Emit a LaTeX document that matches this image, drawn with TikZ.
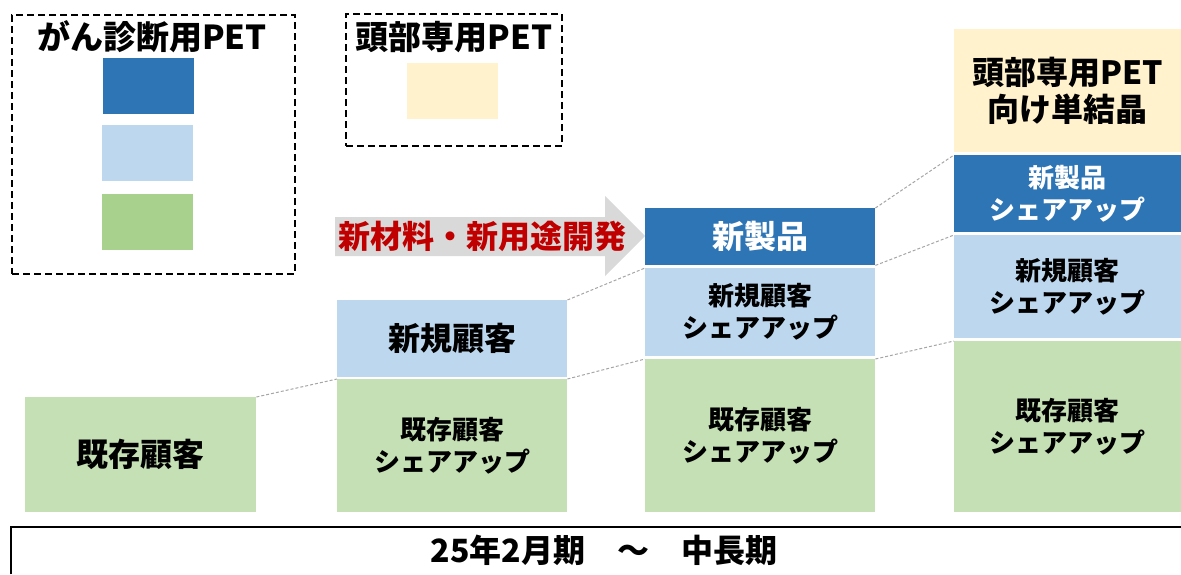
\documentclass[tikz,border=0pt]{standalone}
\usepackage{fontspec}
\setmainfont{Noto Sans CJK JP}
\definecolor{dblue}{HTML}{2E75B6}
\definecolor{lblue}{HTML}{BDD7EE}
\definecolor{lgreen}{HTML}{C5E0B4}
\definecolor{mgreen}{HTML}{A9D18E}
\definecolor{cream}{HTML}{FFF2CC}
\definecolor{agray}{HTML}{D9D9D9}
\definecolor{dred}{HTML}{C00000}
\definecolor{cgray}{HTML}{A6A6A6}
\begin{document}
\begin{tikzpicture}[x=1pt,y=-1pt,
  seg/.style={anchor=north west, inner sep=0pt, align=center, text=black},
  big/.style={font=\bfseries\fontsize{32}{37}\selectfont},
  small/.style={font=\bfseries\fontsize{26}{32}\selectfont},
  conn/.style={draw=cgray, line width=1pt, dash pattern=on 3pt off 2pt},
  legbox/.style={draw=black, line width=2pt, dash pattern=on 7pt off 4pt, anchor=north west, inner sep=0pt},
  swatch/.style={anchor=north west, inner sep=0pt, minimum width=91pt, minimum height=56pt},
  legtitle/.style={inner sep=0pt, font=\bfseries\fontsize{33}{37}\selectfont}]
\useasboundingbox (0,0) rectangle (1181,574);

% legend 1
\node[legbox, minimum width=283pt, minimum height=259pt] (leg1) at (11,14) {};
\node[legtitle] (leg1t) at (152,37) {がん診断用PET};
\node[swatch, fill=dblue] (sw1) at (103,58) {};
\node[swatch, fill=lblue] (sw2) at (102,125) {};
\node[swatch, fill=mgreen] (sw3) at (102,194) {};

% legend 2
\node[legbox, minimum width=216pt, minimum height=132pt] (leg2) at (345,13) {};
\node[legtitle] (leg2t) at (454,37) {頭部専用PET};
\node[swatch, fill=cream] (sw4) at (407,63) {};

% arrow
\fill[agray] (335,217) -- (605,217) -- (605,196) -- (645,236) -- (605,276) -- (605,256) -- (335,256) -- cycle;
\node[inner sep=0pt, text=dred, font=\bfseries\fontsize{32}{37}\selectfont] (arrowtext) at (482,236) {新材料・新用途開発};

% column 1
\node[seg, big, fill=lgreen, minimum width=231pt, minimum height=115pt] (c1g) at (25,397) {既存顧客};

% column 2
\node[seg, big, fill=lblue, minimum width=230pt, minimum height=77pt] (c2b) at (337,300) {新規顧客};
\node[seg, small, fill=lgreen, minimum width=230pt, minimum height=133pt] (c2g) at (337,379) {既存顧客\\シェアアップ};

% column 3
\node[seg, big, fill=dblue, text=white, minimum width=230pt, minimum height=57pt] (c3d) at (645,208) {新製品};
\node[seg, small, fill=lblue, minimum width=230pt, minimum height=88pt] (c3b) at (645,268) {新規顧客\\シェアアップ};
\node[seg, small, fill=lgreen, minimum width=230pt, minimum height=153pt] (c3g) at (645,359) {既存顧客\\シェアアップ};

% column 4
\node[seg, big, fill=cream, minimum width=227pt, minimum height=123pt] (c4c) at (954,29) {頭部専用PET\\向け単結晶};
\node[seg, small, fill=dblue, text=white, minimum width=227pt, minimum height=77pt] (c4d) at (954,155) {新製品\\シェアアップ};
\node[seg, small, fill=lblue, minimum width=227pt, minimum height=103pt] (c4b) at (954,235) {新規顧客\\シェアアップ};
\node[seg, small, fill=lgreen, minimum width=227pt, minimum height=171pt] (c4g) at (954,341) {既存顧客\\シェアアップ};

% connectors
\draw[conn] (c1g.north east) -- (c2g.north west);
\draw[conn] (c2b.north east) -- (c3b.north west);
\draw[conn] (c2g.north east) -- (c3g.north west);
\draw[conn] (c3d.north east) -- (c4d.north west);
\draw[conn] (c3d.south east) -- (c4b.north west);
\draw[conn] (c3g.north east) -- (c4g.north west);

% bottom bar
\node[anchor=north west, inner sep=0pt, minimum width=1186pt, minimum height=47pt, font=\bfseries\fontsize{32}{37}\selectfont] (bar) at (11,527) {25年2月期　～　中長期};
\draw[line width=1.5pt] (bar.south west) -- (bar.north west) -- (bar.north east);
\end{tikzpicture}
\end{document}
